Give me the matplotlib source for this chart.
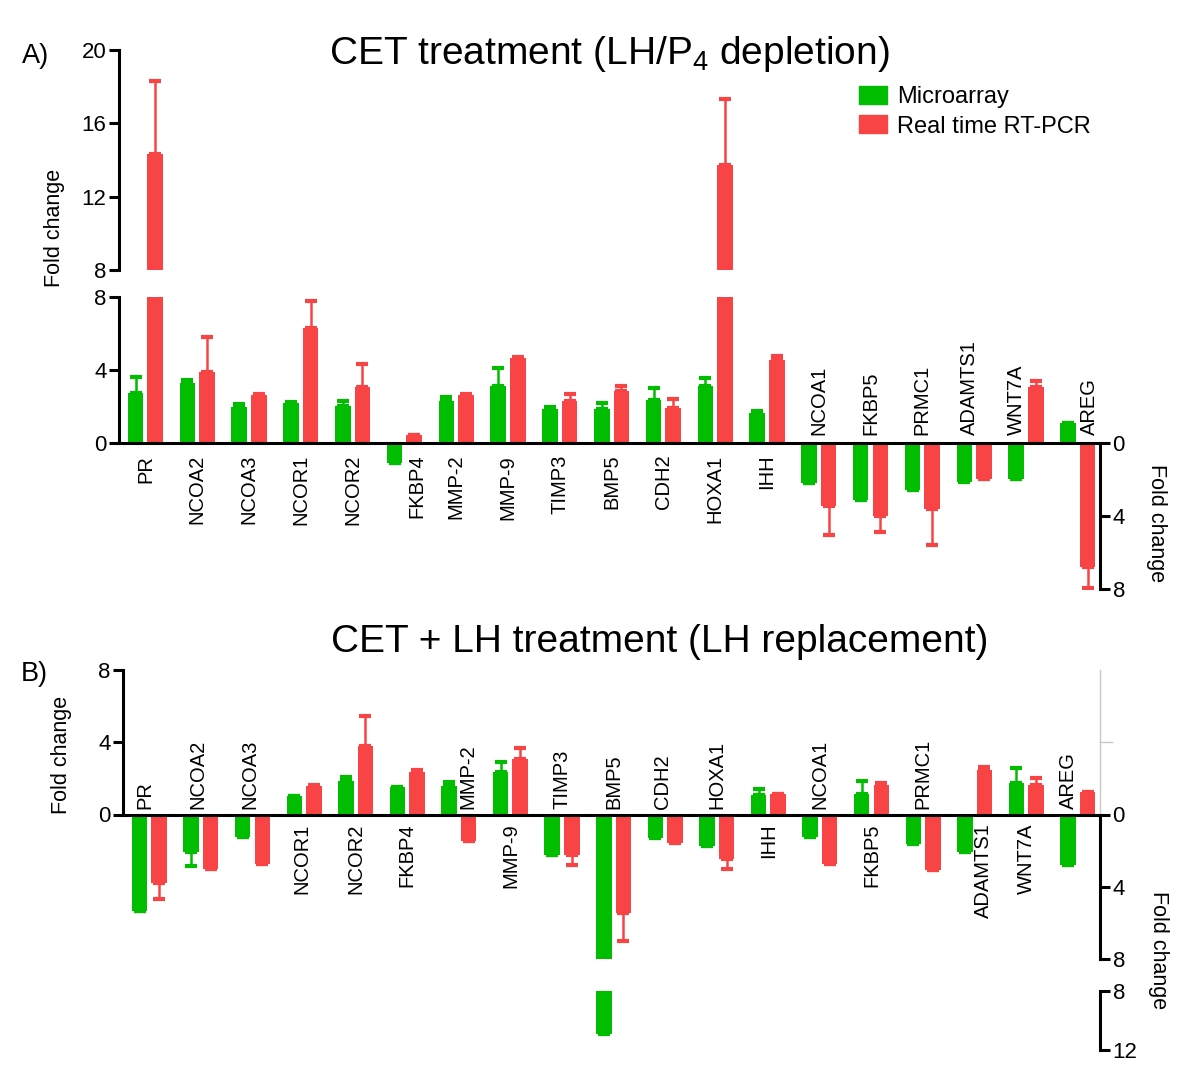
import numpy as np
import matplotlib.pyplot as plt
from matplotlib.patches import Patch
import matplotlib.transforms as mtransforms

plt.rcParams['font.family'] = ['Liberation Sans', 'DejaVu Sans']
plt.rcParams['mathtext.fontset'] = 'custom'
plt.rcParams['mathtext.rm'] = 'Liberation Sans'
plt.rcParams['mathtext.default'] = 'regular'

genes = ['PR', 'NCOA2', 'NCOA3', 'NCOR1', 'NCOR2', 'FKBP4', 'MMP-2', 'MMP-9', 'TIMP3',
         'BMP5', 'CDH2', 'HOXA1', 'IHH', 'NCOA1', 'FKBP5', 'PRMC1', 'ADAMTS1', 'WNT7A', 'AREG']

# A) CET treatment -- negative = fold decrease
a_micro = [2.75, 3.27, 1.99, 2.21, 2.05, -1.11, 2.30, 3.12, 1.85, 1.88, 2.37, 3.14, 1.64,
           -2.19, -3.14, -2.60, -2.16, -1.97, 1.10]
a_micro_err = [0.85, 0.18, 0.15, 0.02, 0.27, 0.0, 0.24, 1.01, 0.10, 0.31, 0.64, 0.42, 0.12,
               0.0, 0.0, 0.0, 0.0, 0.0, 0.02]
a_pcr = [14.34, 3.90, 2.63, 6.32, 3.05, 0.44, 2.63, 4.64, 2.32, 2.83, 1.92, 13.73, 4.56,
         -3.44, -3.98, -3.62, -1.96, 3.05, -6.78]
a_pcr_err = [3.96, 1.90, 0.03, 1.48, 1.26, 0.0, 0.03, 0.06, 0.38, 0.31, 0.49, 3.60, 0.19,
             1.58, 0.90, 1.99, 0.0, 0.36, 1.18]

# B) CET + LH treatment
b_micro = [-5.34, -2.07, -1.24, 1.03, 1.85, 1.53, 1.57, 2.36, -2.26, -10.9, -1.30, -1.74, 1.07,
           -1.24, 1.13, -1.65, -2.07, 1.75, -2.81]
b_micro_err = [0.0, 0.80, 0.0, 0.0, 0.23, 0.0, 0.24, 0.52, 0.0, 0.0, 0.0, 0.0, 0.32,
               0.0, 0.72, 0.0, 0.0, 0.85, 0.0]
b_pcr = [-3.77, -3.03, -2.72, 1.57, 3.80, 2.36, -1.48, 3.10, -2.26, -5.45, -1.57, -2.49, 1.13,
         -2.72, 1.66, -3.05, 2.46, 1.62, 1.25]
b_pcr_err = [0.89, 0.0, 0.0, 0.07, 1.67, 0.11, 0.0, 0.59, 0.55, 1.55, 0.0, 0.50, 0.02,
             0.0, 0.06, 0.0, 0.18, 0.38, 0.0]

# where the gene names sit (below / above the zero line) and small sideways nudges
a_label_below = [True] * 13 + [False] * 6
a_label_shift = [0, 0, 0, 0, 0, 0.25, 0, 0, 0, 0, 0, 0, 0, 0, 0, 0, -0.1, -0.19, 0.23]
b_label_below = [False, False, False, True, True, True, False, True, False, False, False, False,
                 True, False, True, False, True, True, False]
b_label_shift = [-0.08, -0.05, -0.05, -0.05, 0, 0, 0.18, 0, 0, 0, -0.05, 0, 0, 0, 0, 0, 0.17, 0, -0.19]

GREEN = '#00BD00'
RED = '#F84444'
W, H = 1200, 1087
fig = plt.figure(figsize=(W / 100, H / 100), dpi=100)

x = np.arange(len(genes))
XLIM = (-0.51, 18.43)
BW = 0.30
OFF = 0.19
LW = 2.2
TICK_FS = 16
GENE_FS = 14.5


def add_axes_px(left, top, right, bottom):
    return fig.add_axes([left / W, 1 - bottom / H, (right - left) / W, (bottom - top) / H])


def clean(ax):
    ax.patch.set_visible(False)
    for s in ax.spines.values():
        s.set_visible(False)
        s.set_linewidth(LW)
    ax.set_xticks([])
    ax.set_xlim(*XLIM)
    ax.tick_params(axis='y', length=7, width=LW, labelsize=TICK_FS, pad=2)


def draw_bars(ax, micro, micro_err, pcr, pcr_err):
    for vals, errs, dx, col in ((micro, micro_err, -OFF, GREEN), (pcr, pcr_err, OFF, RED)):
        vals = np.asarray(vals)
        errs = np.asarray(errs)
        ax.bar(x + dx, vals, BW, color=col, zorder=2)
        lo = np.where(vals < 0, errs, 0)
        hi = np.where(vals > 0, errs, 0)
        ax.errorbar(x + dx, vals, yerr=[lo, hi], fmt='none', ecolor=col, elinewidth=1.8,
                    capsize=4, capthick=3, zorder=2)


def gene_labels(ax, below, shift, gap_below, gap_above):
    for i, g in enumerate(genes):
        if below[i]:
            ax.annotate(g, (x[i] + shift[i], 0), xytext=(0, -gap_below), textcoords='offset points',
                        rotation=90, ha='center', va='top', fontsize=GENE_FS)
        else:
            ax.annotate(g, (x[i] + shift[i], 0), xytext=(0, gap_above), textcoords='offset points',
                        rotation=90, ha='center', va='bottom', fontsize=GENE_FS)


# ---------- panel A ----------
axA_top = add_axes_px(119, 50, 1100, 270)
clean(axA_top)
draw_bars(axA_top, a_micro, a_micro_err, a_pcr, a_pcr_err)
axA_top.set_ylim(8, 20)
axA_top.spines['left'].set_visible(True)
axA_top.spines['left'].set_bounds(8, 20)
axA_top.set_yticks([8, 12, 16, 20])

axA = add_axes_px(119, 297, 1100, 589)
clean(axA)
draw_bars(axA, a_micro, a_micro_err, a_pcr, a_pcr_err)
axA.set_ylim(-8, 8)
axA.spines['left'].set_visible(True)
axA.spines['left'].set_bounds(0, 8)
axA.set_yticks([0, 4, 8])
axA.axhline(0, color='black', lw=LW, zorder=3)
gene_labels(axA, a_label_below, a_label_shift, 8.5, 5.5)

axA_r = axA.twinx()
clean(axA_r)
axA_r.set_ylim(-8, 8)
axA_r.spines['right'].set_visible(True)
axA_r.spines['right'].set_bounds(-8, 0)
axA_r.set_yticks([-8, -4, 0])
axA_r.set_yticklabels(['8', '4', '0'])

# ---------- panel B ----------
axB = add_axes_px(123, 670, 1100, 959)
clean(axB)
draw_bars(axB, b_micro, b_micro_err, b_pcr, b_pcr_err)
axB.set_ylim(-8, 8)
axB.spines['left'].set_visible(True)
axB.spines['left'].set_bounds(0, 8)
axB.set_yticks([0, 4, 8])
axB.axhline(0, color='black', lw=LW, zorder=3)
gene_labels(axB, b_label_below, b_label_shift, 6.5, 4.3)

axB_r = axB.twinx()
clean(axB_r)
axB_r.set_ylim(-8, 8)
axB_r.spines['right'].set_visible(True)
axB_r.spines['right'].set_bounds(-8, 0)
axB_r.set_yticks([-8, -4, 0])
axB_r.set_yticklabels(['8', '4', '0'])
# faint upper part of the right axis
trB = mtransforms.blended_transform_factory(axB_r.transAxes, axB_r.transData)
axB_r.plot([1, 1], [0, 8], color='#C8C8C8', lw=1, transform=trB, clip_on=False)
axB_r.plot([1, 1.012], [4, 4], color='#C8C8C8', lw=1, transform=trB, clip_on=False)

axB_low = add_axes_px(123, 991, 1100, 1050)
clean(axB_low)
draw_bars(axB_low, b_micro, b_micro_err, b_pcr, b_pcr_err)
axB_low.set_ylim(-12, -8)
axB_low.yaxis.tick_right()
axB_low.spines['right'].set_visible(True)
axB_low.spines['right'].set_bounds(-12, -8)
axB_low.set_yticks([-12, -8])
axB_low.set_yticklabels(['12', '8'])

# ---------- text ----------
fig.text(609 / W, 1 - 64 / H, 'CET treatment (LH/P$_4$ depletion)', ha='center', va='baseline',
         fontsize=28)
fig.text(660 / W, 1 - 652 / H, 'CET + LH treatment (LH replacement)', ha='center', va='baseline',
         fontsize=28)
fig.text(22 / W, 1 - 63 / H, 'A)', ha='left', va='baseline', fontsize=19.5)
fig.text(21 / W, 1 - 681 / H, 'B)', ha='left', va='baseline', fontsize=19.5)

fig.text(55 / W, 1 - 228 / H, 'Fold change', rotation=90, ha='center', va='center', fontsize=15.5)
fig.text(1156 / W, 1 - 523 / H, 'Fold change', rotation=270, ha='center', va='center', fontsize=15.5)
fig.text(62 / W, 1 - 755 / H, 'Fold change', rotation=90, ha='center', va='center', fontsize=15.5)
fig.text(1158 / W, 1 - 950 / H, 'Fold change', rotation=270, ha='center', va='center', fontsize=15.5)

handles = [Patch(color=GREEN), Patch(color=RED)]
fig.legend(handles, ['Microarray', 'Real time RT-PCR'], loc='upper left',
           bbox_to_anchor=(859 / W, 1 - 86 / H), frameon=False, fontsize=17,
           handlelength=1.2, handleheight=0.8, handletextpad=0.4, borderpad=0,
           labelspacing=0.3, borderaxespad=0)

fig.savefig('out.png', dpi=100)
